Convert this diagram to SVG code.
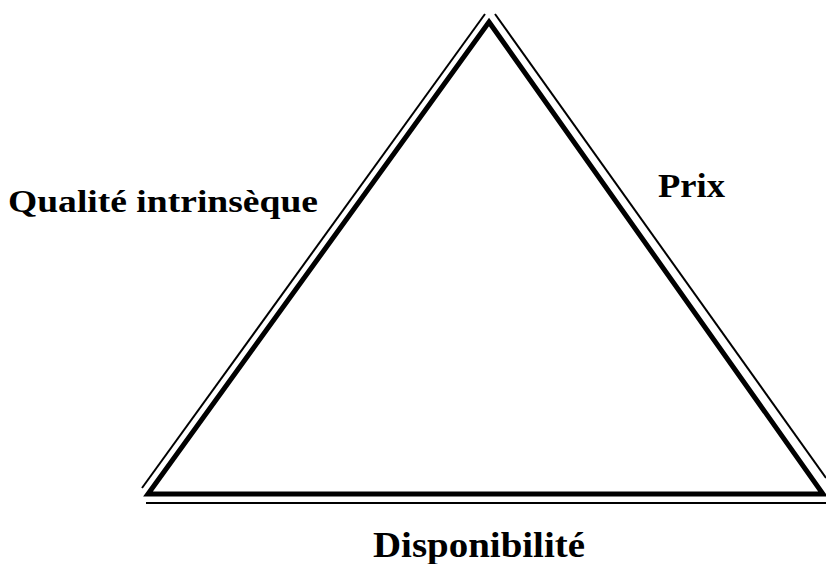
<svg xmlns="http://www.w3.org/2000/svg" width="826" height="564" viewBox="0 0 826 564">
<style>
.thick{stroke:#000;stroke-width:5;fill:none;stroke-linecap:butt;stroke-linejoin:miter}
.thin{stroke:#000;stroke-width:2;fill:none}
.lbl{font-family:"Liberation Serif","Times New Roman",serif;font-weight:bold;fill:#000}
</style>
<rect width="826" height="564" fill="#fff"/>
<g id="connectors">
<polygon class="thick" points="489,22 823,494 148,494"/>
<line class="thin" x1="485" y1="14" x2="142" y2="488"/>
<line class="thin" x1="495" y1="14" x2="826" y2="478"/>
<line class="thin" x1="146" y1="503" x2="826" y2="503"/>
</g>
<g id="node-qualite"><text class="lbl" x="8" y="212" font-size="32" textLength="310" lengthAdjust="spacingAndGlyphs">Qualité intrinsèque</text></g>
<g id="node-prix"><text class="lbl" x="658" y="197" font-size="33" textLength="67" lengthAdjust="spacingAndGlyphs">Prix</text></g>
<g id="node-disponibilite"><text class="lbl" x="373" y="557" font-size="35" textLength="212" lengthAdjust="spacingAndGlyphs">Disponibilité</text></g>
</svg>
